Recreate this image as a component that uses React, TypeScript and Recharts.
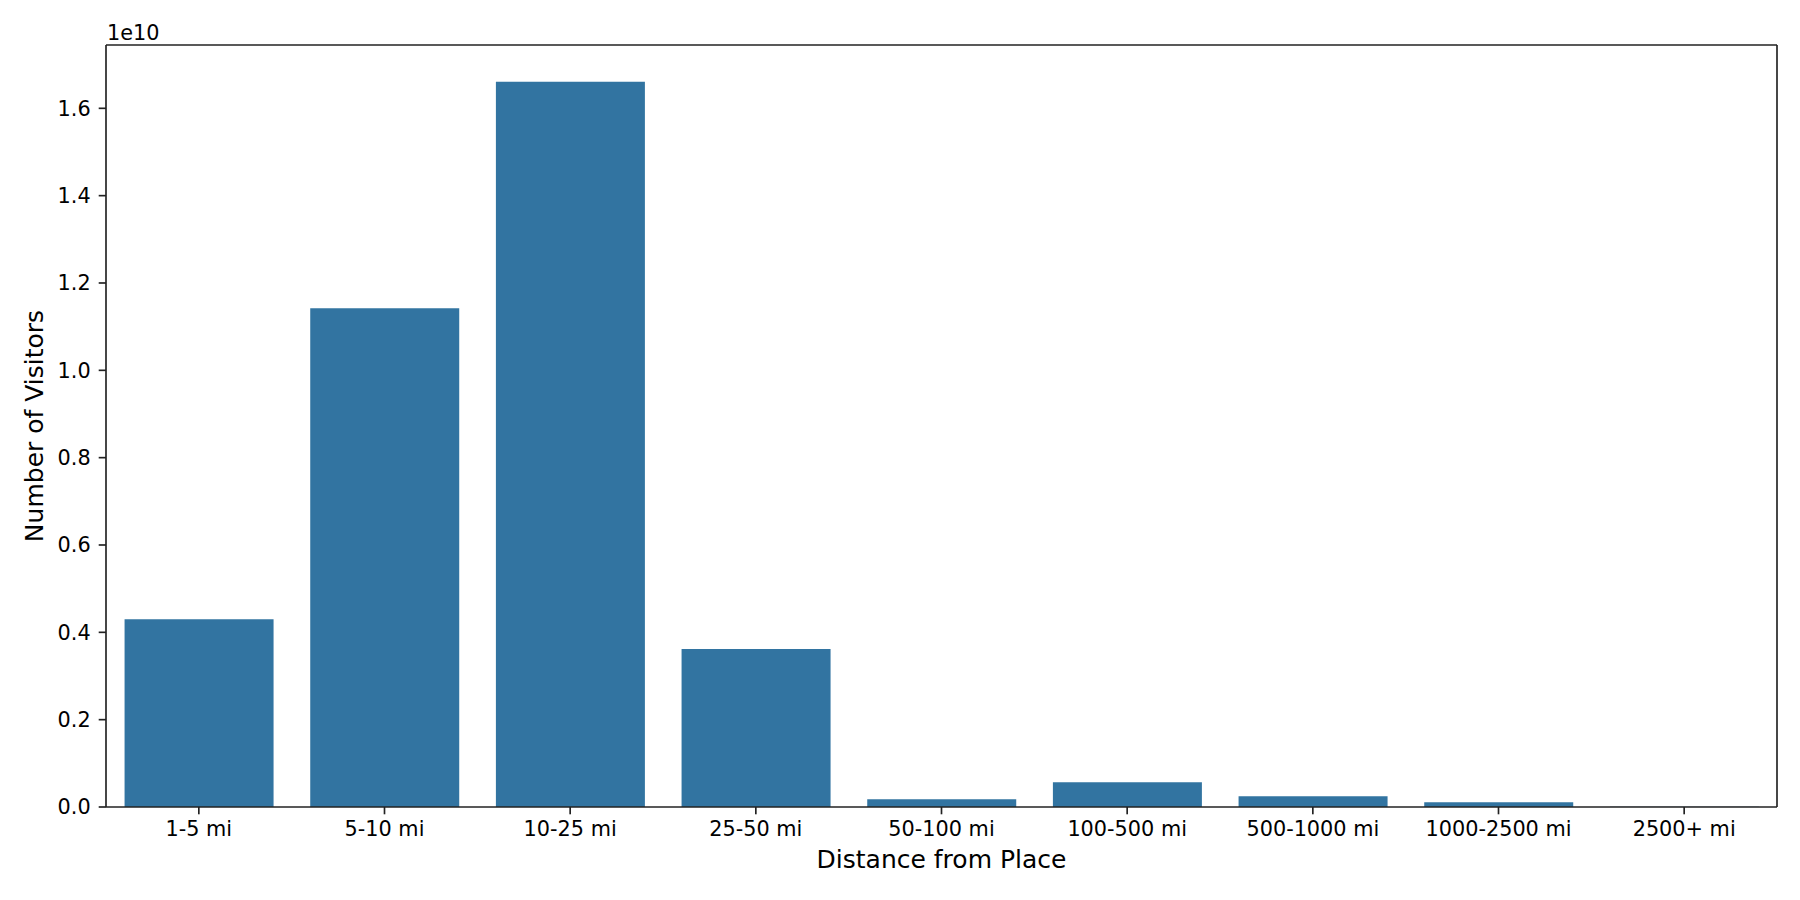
import React from 'react';
import { BarChart, Bar, XAxis, YAxis, Label } from 'recharts';

const categories = ['1-5 mi', '5-10 mi', '10-25 mi', '25-50 mi', '50-100 mi', '100-500 mi', '500-1000 mi', '1000-2500 mi', '2500+ mi'];
const visitors = [4.30e9, 1.142e10, 1.661e10, 3.62e9, 1.76e8, 5.65e8, 2.45e8, 1.08e8, 8e6];
const yTicks = [0, 2e9, 4e9, 6e9, 8e9, 1e10, 1.2e10, 1.4e10, 1.6e10];
const yMax = 1.745e10;
const xTitle = 'Distance from Place';
const yTitle = 'Number of Visitors';
const offsetText = '1e10';

const data = categories.map((c, i) => ({ distance: c, visitors: visitors[i] }));

const FONT = 'DejaVu Sans';
const AX = '#222222';
const SW = 1.67;

const XTitle = (props: any) => {
  const vb = props.viewBox || {};
  return (
    <text x={vb.x + vb.width / 2} y={vb.y + 61} textAnchor="middle" fontFamily={FONT} fontSize={25} fill="#000">
      {xTitle}
    </text>
  );
};

const YTitle = (props: any) => {
  const vb = props.viewBox || {};
  const cx = 42.5;
  const cy = vb.y + vb.height / 2;
  return (
    <text x={cx} y={cy} transform={`rotate(-90 ${cx} ${cy})`} textAnchor="middle" fontFamily={FONT} fontSize={25} fill="#000">
      {yTitle}
    </text>
  );
};

const OffsetLabel = (props: any) => {
  const vb = props.viewBox || {};
  return (
    <text x={vb.x + 1} y={vb.y + vb.height - 5.5} textAnchor="start" fontFamily={FONT} fontSize={20.8} fill="#000">
      {offsetText}
    </text>
  );
};

export default function App() {
  return (
    <div style={{ position: 'absolute', left: 0, top: 0, width: 1800, height: 900, background: '#fff' }}>
      <BarChart width={1800} height={900} data={data} margin={{ top: 44, right: 22, bottom: 0, left: 0 }} barCategoryGap="10%">
        <XAxis
          dataKey="distance"
          xAxisId="b"
          height={93}
          interval={0}
          tickSize={7.3}
          tickMargin={7.3}
          axisLine={{ stroke: AX, strokeWidth: SW }}
          tickLine={{ stroke: AX, strokeWidth: SW }}
          tick={{ fill: '#000', fontSize: 20.8, fontFamily: FONT }}
        >
          <Label content={XTitle} />
        </XAxis>
        <XAxis
          dataKey="distance"
          xAxisId="t"
          orientation="top"
          height={1}
          interval={0}
          tick={false}
          tickLine={false}
          axisLine={{ stroke: AX, strokeWidth: SW }}
        >
          <Label content={OffsetLabel} />
        </XAxis>
        <YAxis
          yAxisId="l"
          width={106}
          domain={[0, yMax]}
          ticks={yTicks}
          allowDataOverflow
          tickSize={7.3}
          tickMargin={8}
          tickFormatter={(v: number) => (v / 1e10).toFixed(1)}
          axisLine={{ stroke: AX, strokeWidth: SW }}
          tickLine={{ stroke: AX, strokeWidth: SW }}
          tick={{ fill: '#000', fontSize: 20.8, fontFamily: FONT }}
        >
          <Label content={YTitle} />
        </YAxis>
        <YAxis
          yAxisId="r"
          orientation="right"
          width={1}
          domain={[0, yMax]}
          allowDataOverflow
          tick={false}
          tickLine={false}
          axisLine={{ stroke: AX, strokeWidth: SW }}
        />
        <Bar dataKey="visitors" xAxisId="b" yAxisId="l" fill="#3274a1" isAnimationActive={false} />
      </BarChart>
    </div>
  );
}
